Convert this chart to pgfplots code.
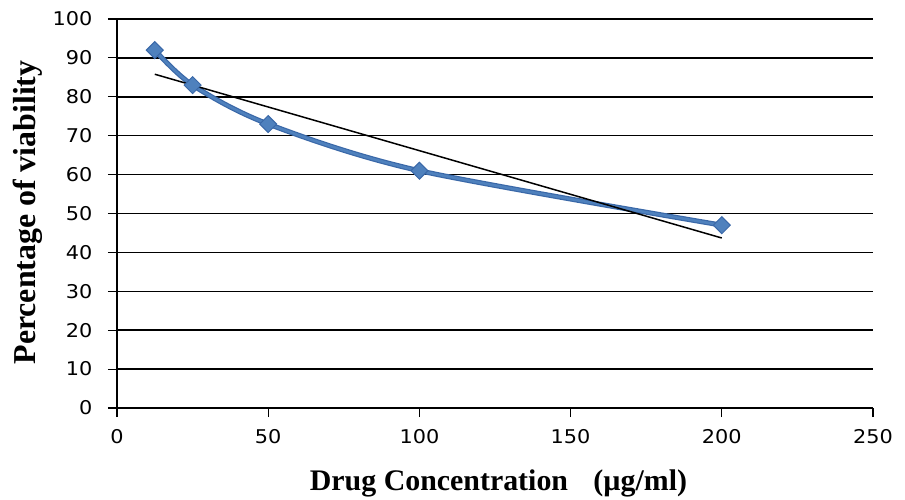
\documentclass[border=0pt]{standalone}
\usepackage{fontspec}
\usepackage{pgfplots}
\pgfplotsset{compat=1.18}
\setmainfont{Liberation Serif}
\newfontfamily\tickfont[FakeStretch=1.1]{DejaVu Sans}
\definecolor{exblue}{HTML}{4F81BD}
\definecolor{exdark}{HTML}{3A68A8}
\begin{document}
\begin{tikzpicture}
\path[use as bounding box] (-117bp,-92bp) rectangle (788bp,408bp);
\begin{axis}[
  at={(0,0)}, anchor=south west,
  scale only axis,
  width=756bp, height=389bp,
  xmin=0, xmax=250, ymin=0, ymax=100,
  xtick={0,50,...,250}, ytick={0,10,...,100},
  axis lines=left,
  axis line style={-, black, line width=1.5bp},
  tick align=outside,
  major tick length=9bp,
  tick style={black, line width=1.2bp},
  ymajorgrids,
  major grid style={black, line width=1.5bp},
  /pgf/number format/assume math mode=true,
  ticklabel style={font=\tickfont\fontsize{19}{21}\selectfont},
  yticklabel style={xshift=-12bp},
  xticklabel style={yshift=-9bp},
  xlabel={\fontsize{30}{34}\selectfont\bfseries Drug Concentration\hspace{0.6em} (\textmu g/ml)},
  ylabel={\fontsize{32}{36}\selectfont\bfseries Percentage of viability},
  x label style={at={(axis description cs:0.5046,-0.2108)}, anchor=base},
  y label style={at={(axis description cs:-0.1177,0.5026)}, anchor=center},
  clip=false,
]
\addplot[exdark, line width=5bp, smooth]
  coordinates {(12.5,92) (25,83) (50,73) (100,61) (200,47)};
\addplot[exblue, line width=2.6bp, smooth, mark=square*, mark size=6bp,
  mark options={rotate=45, fill=exblue, draw=exdark, line width=1bp}]
  coordinates {(12.5,92) (25,83) (50,73) (100,61) (200,47)};
\addplot[black, line width=1.5bp] coordinates {(12.5,85.8) (200,43.7)};
\end{axis}
\end{tikzpicture}
\end{document}
